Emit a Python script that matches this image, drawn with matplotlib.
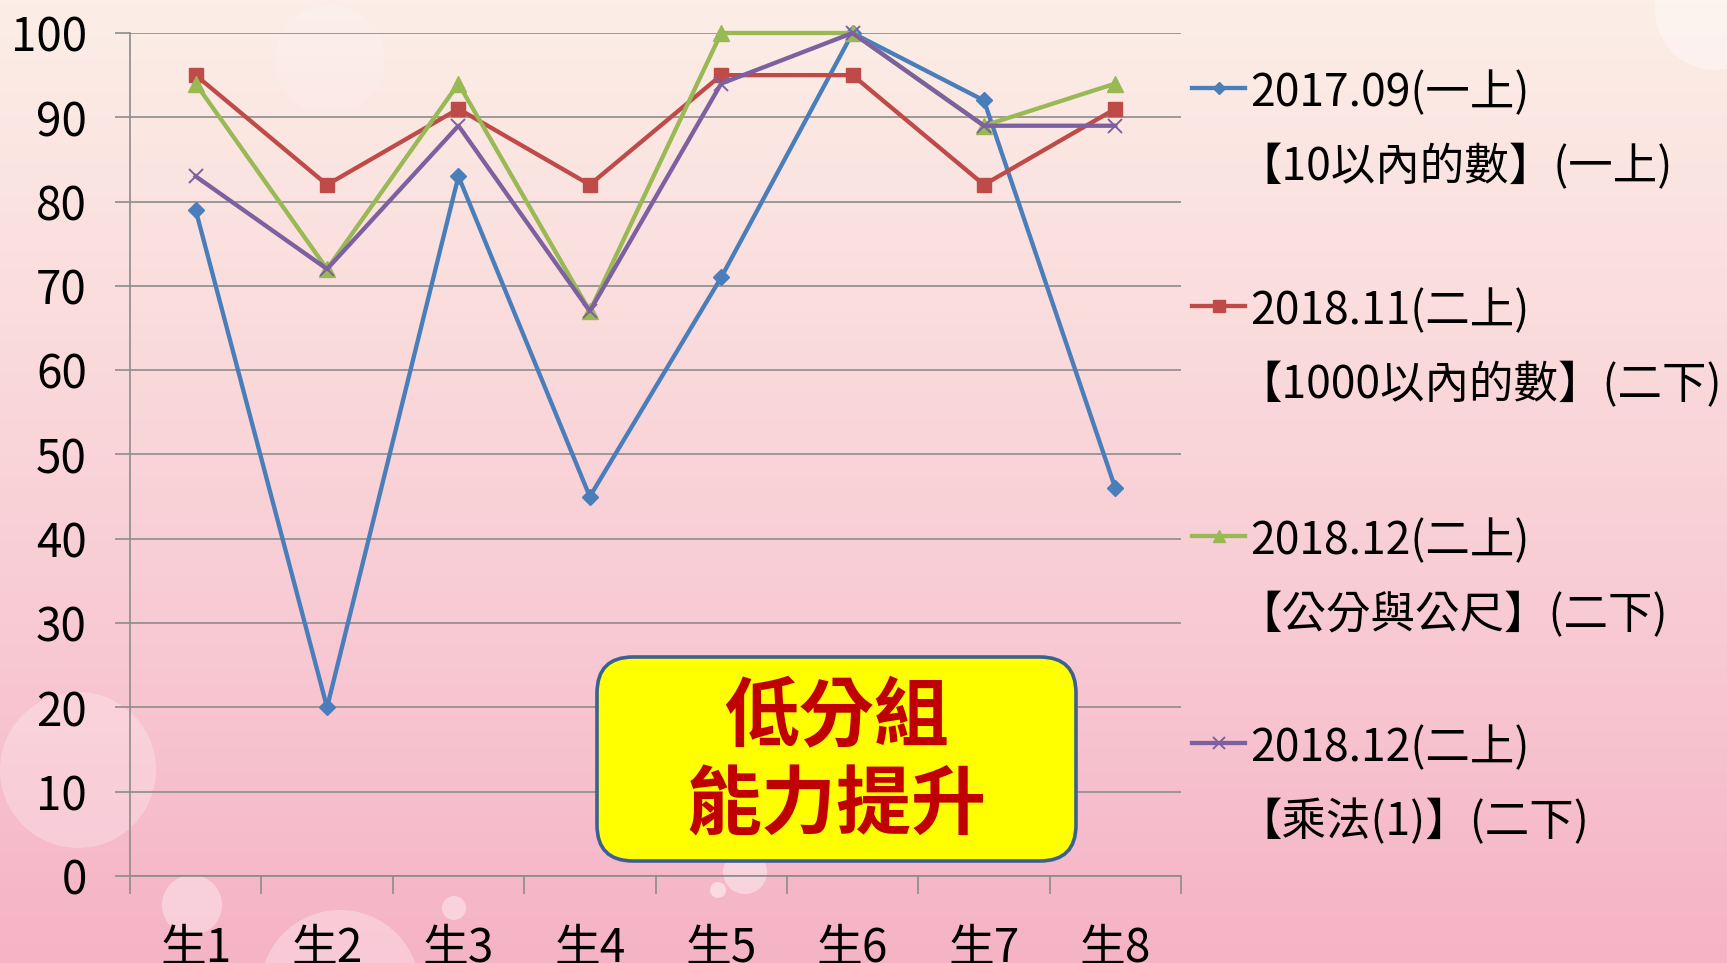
import matplotlib
matplotlib.use("Agg")
import matplotlib.pyplot as plt
import numpy as np
from matplotlib.colors import LinearSegmentedColormap
from matplotlib.lines import Line2D
from matplotlib.patches import Circle, FancyBboxPatch

plt.rcParams["font.family"] = ["Noto Sans CJK TC", "DejaVu Sans"]

students = ["生1", "生2", "生3", "生4", "生5", "生6", "生7", "生8"]
score_2017_09 = [79, 20, 83, 45, 71, 100, 92, 46]
score_2018_11 = [95, 82, 91, 82, 95, 95, 82, 91]
score_2018_12_cm = [94, 72, 94, 67, 100, 100, 89, 94]
score_2018_12_mul = [83, 72, 89, 67, 94, 100, 89, 89]
series_dates = ["2017.09(一上)", "2018.11(二上)", "2018.12(二上)", "2018.12(二上)"]
series_units = ["【10以內的數】(一上)", "【1000以內的數】(二下)",
                "【公分與公尺】(二下)", "【乘法(1)】(二下)"]
y_ticks = [0, 10, 20, 30, 40, 50, 60, 70, 80, 90, 100]
badge_lines = ["低分組", "能力提升"]

W, H = 1727, 963
fig = plt.figure(figsize=(W / 100, H / 100), dpi=100)


def fx(px):
    return px / W


def fy(py):
    return 1 - py / H


# pink slide background with a few soft bubbles
bg = fig.add_axes([0, 0, 1, 1], zorder=0)
bg_cmap = LinearSegmentedColormap.from_list(
    "slide", ["#FCEEE7", "#FADCDC", "#F8C9D3", "#F5B3C6"])
bg.imshow(np.linspace(0, 1, 256).reshape(-1, 1), aspect="auto", cmap=bg_cmap,
          extent=[0, W, H, 0])
for cx, cy, r, a in [(78, 770, 78, 0.25), (192, 905, 30, 0.35), (340, 990, 80, 0.3),
                     (454, 908, 12, 0.4), (745, 872, 22, 0.4), (718, 890, 8, 0.5),
                     (330, 60, 55, 0.12), (1715, 10, 60, 0.35)]:
    bg.add_patch(Circle((cx, cy), r, color="white", alpha=a, lw=0))
bg.set_xlim(0, W)
bg.set_ylim(H, 0)
bg.axis("off")

ax = fig.add_axes([fx(130), fy(876), fx(1181) - fx(130), fy(33) - fy(876)], zorder=1)
ax.set_facecolor("none")

x = np.arange(len(students))
styles = [
    dict(color="#4A7EBB", marker="D", ms=8),
    dict(color="#BE4B48", marker="s", ms=10.5),
    dict(color="#98B954", marker="^", ms=11),
    dict(color="#7D60A0", marker="x", ms=10, mew=1.4),
]
all_scores = [score_2017_09, score_2018_11, score_2018_12_cm, score_2018_12_mul]
for scores, st in zip(all_scores, styles):
    ax.plot(x, scores, lw=3.1, clip_on=False, zorder=3, **st)

ax.set_xlim(-0.5, len(students) - 0.5)
ax.set_ylim(0, 100)
ax.set_yticks(y_ticks)
ax.tick_params(axis="y", labelsize=33, length=11, width=1.2, color="#8C8C8C", pad=20)
ax.set_xticks(np.arange(-0.5, len(students), 1))
ax.set_xticklabels([])
ax.set_xticks(x, minor=True)
ax.set_xticklabels(students, minor=True)
ax.tick_params(axis="x", which="major", length=13, width=1.2, color="#8C8C8C")
ax.tick_params(axis="x", which="minor", length=0, labelsize=33, pad=35)
ax.yaxis.grid(True, color="#8C8C8C", lw=1.2)
ax.set_axisbelow(True)
for side in ["top", "right"]:
    ax.spines[side].set_visible(False)
for side in ["left", "bottom"]:
    ax.spines[side].set_color("#8C8C8C")
    ax.spines[side].set_linewidth(1.2)

# legend drawn by hand: two text rows per series
legend_rows = [93, 311, 541, 748]
for y0, date, unit, st in zip(legend_rows, series_dates, series_units, styles):
    fig.add_artist(Line2D([fx(1192), fx(1245)], [fy(y0 - 5), fy(y0 - 5)], lw=3.1,
                          color=st["color"], zorder=4))
    mk = dict(st)
    mk["ms"] = st["ms"] * 0.8
    fig.add_artist(Line2D([fx(1218.5)], [fy(y0 - 5)], lw=0, zorder=5, **mk))
    fig.text(fx(1250), fy(y0), date, fontsize=32, va="center", ha="left", zorder=5)
    fig.text(fx(1237), fy(y0 + 74), unit, fontsize=32, va="center", ha="left", zorder=5)

# highlight badge
badge = FancyBboxPatch((5.97, 1.02), 10.76 - 5.97, 3.06 - 1.02,
                       boxstyle="round,pad=0,rounding_size=0.36",
                       transform=fig.dpi_scale_trans, facecolor="#FFFF00",
                       edgecolor="#3A6190", lw=2.6, zorder=6)
fig.add_artist(badge)
for line, py in zip(badge_lines, [718, 806]):
    fig.text(fx(836.5), fy(py), line, fontsize=54, fontweight="bold", color="#C00000",
             ha="center", va="center", zorder=7)

fig.savefig("out.png", dpi=100)
